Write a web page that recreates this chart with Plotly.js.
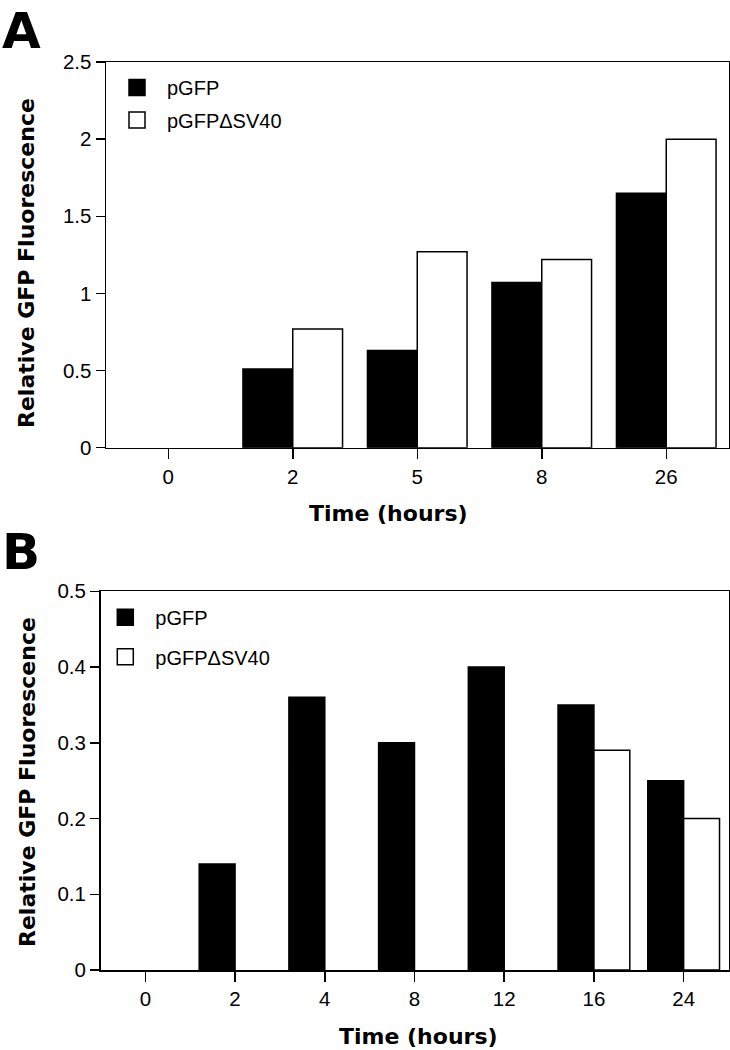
<!DOCTYPE html>
<html>
<head>
<meta charset="utf-8">
<script src="https://cdn.plot.ly/plotly-3.0.1.min.js"></script>
<style>html,body{margin:0;padding:0;background:#fff;}#chart{width:730px;height:1050px;}</style>
</head>
<body>
<div id="chart"></div>
<script>
// Panel A data
const timeA = ['0', '2', '5', '8', '26'];
const pgfpA = [0, 0.51, 0.63, 1.07, 1.65];
const sv40A = [0, 0.77, 1.27, 1.22, 2.0];
// Panel B data
const timeB = ['0', '2', '4', '8', '12', '16', '24'];
const pgfpB = [0, 0.14, 0.36, 0.30, 0.40, 0.35, 0.25];
const sv40B = [0, 0, 0, 0, 0, 0.29, 0.20];

const seriesNames = ['pGFP', 'pGFP\u0394SV40'];
const panelLabels = ['A', 'B'];
const xTitle = 'Time (hours)';
const yTitle = 'Relative GFP Fluorescence';

const W = 730, H = 1050;
const px = v => v / W;
const py = v => 1 - v / H;

const lineW = 1.5;
// zero-height bars show no outline (as in the reference)
const outlineW = vals => vals.map(v => (v === 0 ? 0 : lineW));
const barMarker = (fill, vals) => ({color: fill, line: {color: '#000', width: outlineW(vals)}});

const traces = [
  {type: 'bar', x: timeA, y: pgfpA, name: seriesNames[0], marker: barMarker('#000', pgfpA), xaxis: 'x', yaxis: 'y', showlegend: false},
  {type: 'bar', x: timeA, y: sv40A, name: seriesNames[1], marker: barMarker('#fff', sv40A), xaxis: 'x', yaxis: 'y', showlegend: false},
  {type: 'bar', x: timeB, y: pgfpB, name: seriesNames[0], marker: barMarker('#000', pgfpB), xaxis: 'x2', yaxis: 'y2', showlegend: false},
  {type: 'bar', x: timeB, y: sv40B, name: seriesNames[1], marker: barMarker('#fff', sv40B), xaxis: 'x2', yaxis: 'y2', showlegend: false},
  // legend entries
  {type: 'scatter', mode: 'markers', x: [null], y: [null], name: seriesNames[0], xaxis: 'x', yaxis: 'y', legend: 'legend', legendgroup: 'a1',
   marker: {symbol: 'square', size: 16, color: '#000', line: {color: '#000', width: lineW}}},
  {type: 'scatter', mode: 'markers', x: [null], y: [null], name: seriesNames[1], xaxis: 'x', yaxis: 'y', legend: 'legend', legendgroup: 'a2',
   marker: {symbol: 'square', size: 16, color: '#fff', line: {color: '#000', width: lineW}}},
  {type: 'scatter', mode: 'markers', x: [null], y: [null], name: seriesNames[0], xaxis: 'x2', yaxis: 'y2', legend: 'legend2', legendgroup: 'b1',
   marker: {symbol: 'square', size: 16, color: '#000', line: {color: '#000', width: lineW}}},
  {type: 'scatter', mode: 'markers', x: [null], y: [null], name: seriesNames[1], xaxis: 'x2', yaxis: 'y2', legend: 'legend2', legendgroup: 'b2',
   marker: {symbol: 'square', size: 16, color: '#fff', line: {color: '#000', width: lineW}}}
];

const tickFont = {family: 'Liberation Sans, Arial, sans-serif', size: 20.5, color: '#000'};
const titleFont = {family: 'DejaVu Sans, sans-serif', size: 22, color: '#000', weight: 'bold'};

function xAxis(domain, n, anchor) {
  return {domain: domain, anchor: anchor, type: 'category', range: [-0.5, n - 0.5],
    showline: true, mirror: true, linecolor: '#000', linewidth: lineW,
    ticks: 'outside', ticklen: 10, tickwidth: lineW, tickcolor: '#000',
    showgrid: false, zeroline: false, tickfont: tickFont, automargin: false, fixedrange: true};
}
function yAxis(domain, range, dtick, anchor) {
  return {domain: domain, anchor: anchor, range: range, dtick: dtick, tick0: 0,
    showline: true, mirror: true, linecolor: '#000', linewidth: lineW,
    ticks: 'outside', ticklen: 9, tickwidth: lineW, tickcolor: '#000',
    showgrid: false, zeroline: false, tickfont: tickFont, automargin: false, fixedrange: true};
}

const legendFont = {family: 'Liberation Sans, Arial, sans-serif', size: 20, color: '#000'};

const layout = {
  width: W, height: H,
  margin: {l: 0, r: 0, t: 0, b: 0},
  paper_bgcolor: '#fff', plot_bgcolor: '#fff',
  barmode: 'group', bargap: 0.2, bargroupgap: 0,
  xaxis: xAxis([px(106), px(728.5)], timeA.length, 'y'),
  yaxis: yAxis([py(447.7), py(62)], [0, 2.5], 0.5, 'x'),
  xaxis2: xAxis([px(100.5), px(728.5)], timeB.length, 'y2'),
  yaxis2: yAxis([py(970), py(591.3)], [0, 0.5], 0.1, 'x2'),
  legend: {x: px(107), y: py(68), xanchor: 'left', yanchor: 'top', font: legendFont,
    itemwidth: 50, traceorder: 'grouped', tracegroupgap: 3.5, bgcolor: 'rgba(0,0,0,0)', borderwidth: 0},
  legend2: {x: px(95.3), y: py(597.8), xanchor: 'left', yanchor: 'top', font: legendFont,
    itemwidth: 50, traceorder: 'grouped', tracegroupgap: 10.5, bgcolor: 'rgba(0,0,0,0)', borderwidth: 0},
  annotations: [
    {text: panelLabels[0], xref: 'paper', yref: 'paper', x: px(0), y: 1, xanchor: 'left', yanchor: 'top',
     showarrow: false, font: {family: 'DejaVu Sans, sans-serif', size: 50, color: '#000', weight: 'bold'}},
    {text: panelLabels[1], xref: 'paper', yref: 'paper', x: px(0), y: py(551.7), xanchor: 'left', yanchor: 'middle',
     showarrow: false, font: {family: 'DejaVu Sans, sans-serif', size: 50, color: '#000', weight: 'bold'}},
    {text: xTitle, xref: 'paper', yref: 'paper', x: px(388.5), y: py(513), xanchor: 'center', yanchor: 'middle',
     showarrow: false, font: titleFont},
    {text: xTitle, xref: 'paper', yref: 'paper', x: px(418.8), y: py(1036), xanchor: 'center', yanchor: 'middle',
     showarrow: false, font: titleFont},
    {text: yTitle, xref: 'paper', yref: 'paper', x: px(26), y: py(263), xanchor: 'center', yanchor: 'middle',
     textangle: -90, showarrow: false, font: titleFont},
    {text: yTitle, xref: 'paper', yref: 'paper', x: px(27), y: py(782), xanchor: 'center', yanchor: 'middle',
     textangle: -90, showarrow: false, font: titleFont}
  ]
};

Plotly.newPlot('chart', traces, layout, {staticPlot: true, displayModeBar: false});
</script>
</body>
</html>
